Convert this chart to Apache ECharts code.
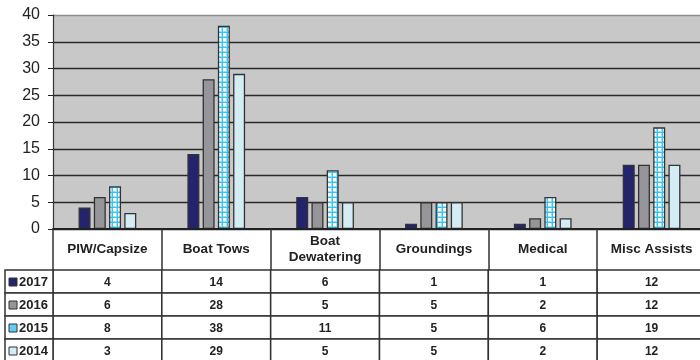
<!DOCTYPE html>
<html>
<head>
<meta charset="utf-8">
<script src="https://cdn.jsdelivr.net/npm/echarts@6/dist/echarts.min.js"></script>
<style>
  html, body { margin: 0; padding: 0; background: #fff; }
  #chart { width: 700px; height: 360px; }
</style>
</head>
<body>
<div id="chart"></div>
<script>
// categories and values
const categories = ['PIW/Capsize', 'Boat Tows', 'Boat\nDewatering', 'Groundings', 'Medical', 'Misc Assists'];
const years = ['2017', '2016', '2015', '2014'];
const v2017 = [4, 14, 6, 1, 1, 12];
const v2016 = [6, 28, 5, 5, 2, 12];
const v2015 = [8, 38, 11, 5, 6, 19];
const v2014 = [3, 29, 5, 5, 2, 12];
const yTicks = [0, 5, 10, 15, 20, 25, 30, 35, 40];

const FONT = '"Liberation Sans", Arial, sans-serif';
const LINE = '#333';

// white with a light blue grid, like the excel fill for 2015
const pc = document.createElement('canvas');
pc.width = 5; pc.height = 5;
const pctx = pc.getContext('2d');
pctx.fillStyle = '#fff';
pctx.fillRect(0, 0, 5, 5);
pctx.fillStyle = '#9fe0f6';
pctx.fillRect(1, 0, 1, 5);
pctx.fillRect(0, 1, 5, 1);
pctx.fillStyle = '#33c6f2';
pctx.fillRect(2, 0, 1, 5);
pctx.fillRect(0, 2, 5, 1);
const pattern = { image: pc, repeat: 'repeat' };

const colors = ['#23236e', '#96969a', pattern, '#d4ecf3'];
const values = [v2017, v2016, v2015, v2014];

const barSeries = years.map((y, i) => ({
  name: y,
  type: 'bar',
  xAxisIndex: 0,
  yAxisIndex: 0,
  barWidth: 12,
  barGap: '27%',
  itemStyle: { color: colors[i], borderColor: LINE, borderWidth: 1.3 },
  data: values[i],
}));

// table cells: [category, row, value]
const cellData = [];
values.forEach((vals, r) => {
  vals.forEach((v, c) => cellData.push([c, r, v]));
});

const tableSeries = {
  type: 'custom',
  xAxisIndex: 1,
  yAxisIndex: 1,
  silent: true,
  data: cellData,
  renderItem(params, api) {
    const p = api.coord([api.value(0), api.value(1)]);
    const s = api.size([1, 1]);
    return {
      type: 'group',
      children: [
        {
          type: 'rect',
          shape: { x: p[0] - s[0] / 2, y: p[1] - s[1] / 2, width: s[0], height: s[1] },
          style: { fill: '#fff', stroke: LINE, lineWidth: 1.5 },
        },
        {
          type: 'text',
          style: {
            text: String(api.value(2)),
            x: p[0], y: p[1] + 1,
            align: 'center', verticalAlign: 'middle',
            font: 'bold 12px ' + FONT, fill: '#222',
          },
        },
      ],
    };
  },
};

const rowLabelSeries = {
  type: 'custom',
  xAxisIndex: 1,
  yAxisIndex: 1,
  silent: true,
  data: years.map((y, r) => [0, r]),
  renderItem(params, api) {
    const r = api.value(1);
    const p = api.coord([0, r]);
    const s = api.size([1, 1]);
    const left = 5;
    const right = params.coordSys.x;
    return {
      type: 'group',
      children: [
        {
          type: 'rect',
          shape: { x: left, y: p[1] - s[1] / 2, width: right - left, height: s[1] },
          style: { fill: '#fff', stroke: LINE, lineWidth: 1.5 },
        },
        {
          type: 'rect',
          shape: { x: 9, y: p[1] - 3.5, width: 8, height: 8 },
          style: { fill: r === 2 ? '#5fd0f4' : colors[r], stroke: LINE, lineWidth: 1 },
        },
        {
          type: 'text',
          style: {
            text: years[r],
            x: 19, y: p[1] + 1,
            align: 'left', verticalAlign: 'middle',
            font: 'bold 13px ' + FONT, fill: '#222',
          },
        },
      ],
    };
  },
};

const splitColors = yTicks.map((t, i) => (i === yTicks.length - 1 ? '#8c8c8c' : '#2a2a2a'));

const option = {
  animation: false,
  grid: [
    { left: 53, width: 653, top: 15, bottom: 131, outerBoundsMode: 'none', show: true, backgroundColor: '#c8c8c8', borderWidth: 0 },
    { left: 53, width: 653, top: 270, height: 92, outerBoundsMode: 'none' },
  ],
  xAxis: [
    {
      type: 'category',
      gridIndex: 0,
      data: categories,
      axisLine: { lineStyle: { color: '#222', width: 2 } },
      axisTick: { show: true, length: 41, lineStyle: { color: LINE, width: 1.5 } },
      axisLabel: {
        interval: 0,
        margin: 20,
        verticalAlign: 'middle',
        lineHeight: 16,
        fontFamily: FONT,
        fontWeight: 'bold',
        fontSize: 13.5,
        color: '#222',
      },
      z: 5,
    },
    {
      type: 'category',
      gridIndex: 1,
      data: categories,
      show: false,
    },
  ],
  yAxis: [
    {
      type: 'value',
      gridIndex: 0,
      min: 0,
      max: 40,
      interval: 5,
      axisLine: { show: true, lineStyle: { color: '#333', width: 1.2 } },
      axisTick: { show: true, length: 5, lineStyle: { color: '#222' } },
      axisLabel: { margin: 13, fontFamily: FONT, fontSize: 16, color: '#222' },
      splitLine: { show: true, lineStyle: { color: splitColors, width: 1.3 } },
    },
    {
      type: 'category',
      gridIndex: 1,
      data: years,
      inverse: true,
      show: false,
    },
  ],
  series: [...barSeries, tableSeries, rowLabelSeries],
};

const myChart = echarts.init(document.getElementById('chart'), null, { renderer: 'canvas' });
myChart.setOption(option);
window.addEventListener('resize', () => {
  myChart.resize();
});
</script>
</body>
</html>
